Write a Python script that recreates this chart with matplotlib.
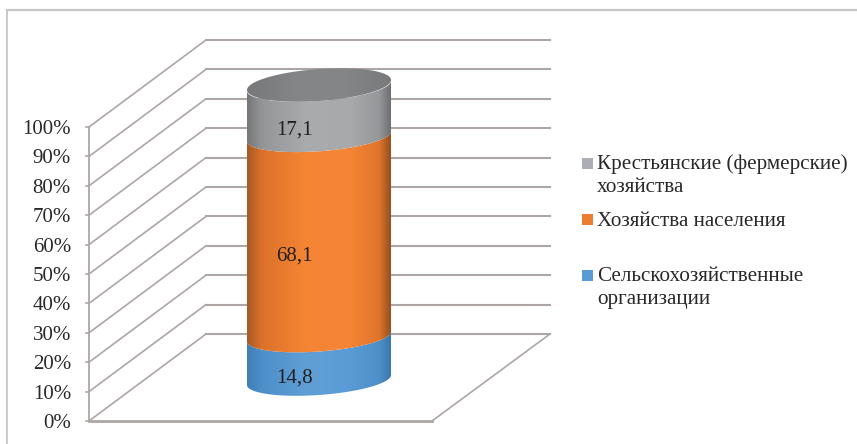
#!/usr/bin/env python3
"""Structure of production by farm category: stacked cylinder in a 3D-style frame."""

import matplotlib
matplotlib.use('Agg')
import matplotlib.pyplot as plt
import numpy as np
from matplotlib.colors import LinearSegmentedColormap
from matplotlib.patches import Polygon, Rectangle

plt.rcParams['font.family'] = ['Liberation Serif', 'DejaVu Serif']

# Data
tick_values = [0, 10, 20, 30, 40, 50, 60, 70, 80, 90, 100]
tick_labels = ['0%', '10%', '20%', '30%', '40%', '50%', '60%', '70%', '80%', '90%', '100%']
series_names = ['Сельскохозяйственные\nорганизации', 'Хозяйства населения',
                'Крестьянские (фермерские)\nхозяйства']
series_values = [14.8, 68.1, 17.1]
value_labels = ['14,8', '68,1', '17,1']
legend_colors = ['#5b9bd5', '#ed7d31', '#adaeb3']

W, H = 857, 444
PX = 2.94  # pixels per percentage point
Y0 = 421   # pixel row of 0%


def v_from_px(py):
    return (Y0 - py) / PX


fig = plt.figure(figsize=(W / 100, H / 100), dpi=100)
ax = fig.add_axes([0, 0, 1, 1])
ax.set_axis_off()

# Outer frame: left and top edges only
frame_c = '#c6c6c6'
ax.plot([7.5, 7.5], [v_from_px(H), v_from_px(10)], color=frame_c, lw=1.3)
ax.plot([7.5, W], [v_from_px(10), v_from_px(10)], color=frame_c, lw=1.6)

# Walls and gridlines
grid_c = '#ada6a4'
front_x, back_x, right_x, floor_x = 89, 206, 550, 432
depth = 87 / PX
for v, lab in zip(tick_values, tick_labels):
    ax.plot([front_x, back_x], [v, v + depth], color=grid_c, lw=1.2, solid_capstyle='round')
    ax.plot([back_x, right_x], [v + depth, v + depth], color=grid_c, lw=1.5)
    ax.plot([front_x - 3, front_x], [v, v], color=grid_c, lw=1.2)
    ax.text(front_x - 18, v - 2.5 / PX, lab, ha='right', va='center', fontsize=15, color='#2b2829')
ax.plot([front_x, front_x], [0, 100], color=grid_c, lw=1.3)
ax.plot([front_x, floor_x], [0, 0], color=grid_c, lw=2)
ax.plot([floor_x, right_x], [0, depth], color=grid_c, lw=1.2)

# Cylinder geometry
cx, a = 319, 72
base = v_from_px(380)
slope = (10 / 144) / PX
b = 15 / PX
t_front = np.linspace(np.pi, 0, 80)


def front_arc(v):
    xs = cx + a * np.cos(t_front)
    ys = base + v - b * np.sin(t_front) + slope * (xs - cx)
    return xs, ys


side_ramps = [
    ['#3f7fb6', '#4d8fc9', '#609fd6', '#5b9bd5', '#4f8fc8', '#3a78ac'],
    ['#a65a25', '#dc712b', '#f58634', '#f58535', '#e0742c', '#94501f'],
    ['#757678', '#939597', '#a9abac', '#a7a9aa', '#959799', '#6e6f72'],
]
stops = [0, 0.1, 0.42, 0.72, 0.92, 1]

bottom = 0
for i, val in enumerate(series_values):
    top = bottom + val
    x1, y1 = front_arc(bottom)
    x2, y2 = front_arc(top)
    outline = np.column_stack([np.r_[x1, x2[::-1]], np.r_[y1, y2[::-1]]])
    cmap = LinearSegmentedColormap.from_list(f'side{i}', list(zip(stops, side_ramps[i])))
    img = ax.imshow(np.linspace(0, 1, 256)[None, :], cmap=cmap, aspect='auto',
                    extent=[cx - a, cx + a, y1.min() - 2, y2.max() + 2], zorder=3)
    clip = Polygon(outline, closed=True, transform=ax.transData, facecolor='none', edgecolor='none')
    ax.add_patch(clip)
    img.set_clip_path(clip)
    ax.text(cx - 25, base + bottom + val / 2 - 6.6, value_labels[i], ha='center', va='center',
            fontsize=15, color='#231f20', zorder=5)
    bottom = top

# Top face of the stack
t = np.linspace(0, 2 * np.pi, 160)
xe = cx + a * np.cos(t)
ye = base + bottom + (16 / PX) * np.sin(t) + slope * (xe - cx) + 1 / PX
top_cmap = LinearSegmentedColormap.from_list('top', ['#77787a', '#848587', '#858688', '#797a7c'])
top_img = ax.imshow(np.linspace(0, 1, 256)[None, :], cmap=top_cmap, aspect='auto',
                    extent=[cx - a, cx + a, ye.min(), ye.max()], zorder=4)
top_clip = Polygon(np.column_stack([xe, ye]), closed=True, transform=ax.transData,
                   facecolor='none', edgecolor='none')
ax.add_patch(top_clip)
top_img.set_clip_path(top_clip)

# Legend
text_x, swatch_x = 597, 582
legend_rows = [(series_names[2], legend_colors[2], 163, 176),
               (series_names[1], legend_colors[1], 219, 221),
               (series_names[0], legend_colors[0], 275, 288)]
for name, color, swatch_y, text_y in legend_rows:
    ax.add_patch(Rectangle((swatch_x, v_from_px(swatch_y + 5.5)), 11, 11 / PX,
                           facecolor=color, edgecolor='none'))
    ax.text(text_x, v_from_px(text_y), name, ha='left', va='center', fontsize=15.2,
            color='#2b2829', linespacing=1.3)

ax.set_xlim(0, W)
ax.set_ylim(v_from_px(H), v_from_px(0))

fig.savefig('out.png', dpi=100, facecolor='white')
plt.close(fig)
